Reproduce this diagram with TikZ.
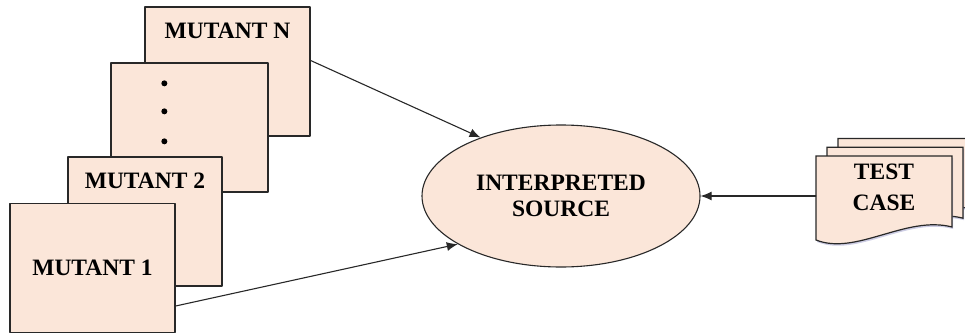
\documentclass[tikz,border=0pt]{standalone}
\usepackage{fontspec}
\setmainfont{Liberation Serif}
\usetikzlibrary{shapes.geometric,arrows.meta,calc,shadows,backgrounds}
\definecolor{peach}{RGB}{251,230,217}
\definecolor{edge}{RGB}{40,40,40}
\tikzset{
    mutbox/.style={rectangle,draw=edge,fill=peach,line width=1.3pt,
        minimum width=#1,minimum height=129pt,inner sep=0pt},
    toptext/.style={anchor=north,inner sep=0pt,yshift=-16pt},
    page/.style={draw=edge,fill=peach,line width=1.2pt},
    link/.style={-{Latex[length=11pt,width=9pt]},line width=1.1pt,draw=edge}
}

\begin{document}
\begin{tikzpicture}[x=1pt,y=-1pt,line cap=round,line join=round,
    font=\fontsize{23.5}{26}\selectfont\bfseries]
    \useasboundingbox (0,0) rectangle (965,334);
    % stack of mutants, back to front
    \node[mutbox=165pt,label={[toptext]north:MUTANT N}] (mutN) at (227.5,71.5) {};
    \node[mutbox=157pt] (mutdots) at (189.5,127.5) {};
    \foreach \d in {21,49,79}
        \fill ($(mutdots.north west)+(54,\d)$) circle (3pt);
    \node[mutbox=154pt,label={[toptext]north:MUTANT 2}] (mut2) at (145,221.5) {};
    \node[mutbox=165pt] (mut1) at (92.5,268) {MUTANT 1};
    % interpreter
    \node[ellipse,draw=edge,fill=peach,line width=1.1pt,inner sep=0pt,
        minimum width=278pt,minimum height=142pt,align=center] (interp)
        at (561,196) {INTERPRETED\\SOURCE};
    % test case documents
    \node[minimum width=136pt,inner sep=0pt,align=center] (testcase)
        at (884,187) {TEST\\[5pt]CASE};
    \begin{scope}[on background layer]
    \foreach \o in {22,11,0}
        \path[page,drop shadow={shadow xshift=1pt,shadow yshift=-2pt,fill=gray!70!blue!60}]
            ($(testcase.center)+(-68+\o,-31-0.8*\o)$)
            -- ++(136,0) -- ++(0,71)
            .. controls ++(-46,-12) and ++(40,16) .. ++(-136,13) -- cycle;
    \end{scope}
    % connectors
    \draw[link] ([yshift=11pt]mutN.east) -- (interp.144);
    \draw[link] ([yshift=-38pt]mut1.east) -- (interp.205);
    \draw[link] (testcase.west |- interp.east) -- (interp.east);
\end{tikzpicture}
\end{document}
